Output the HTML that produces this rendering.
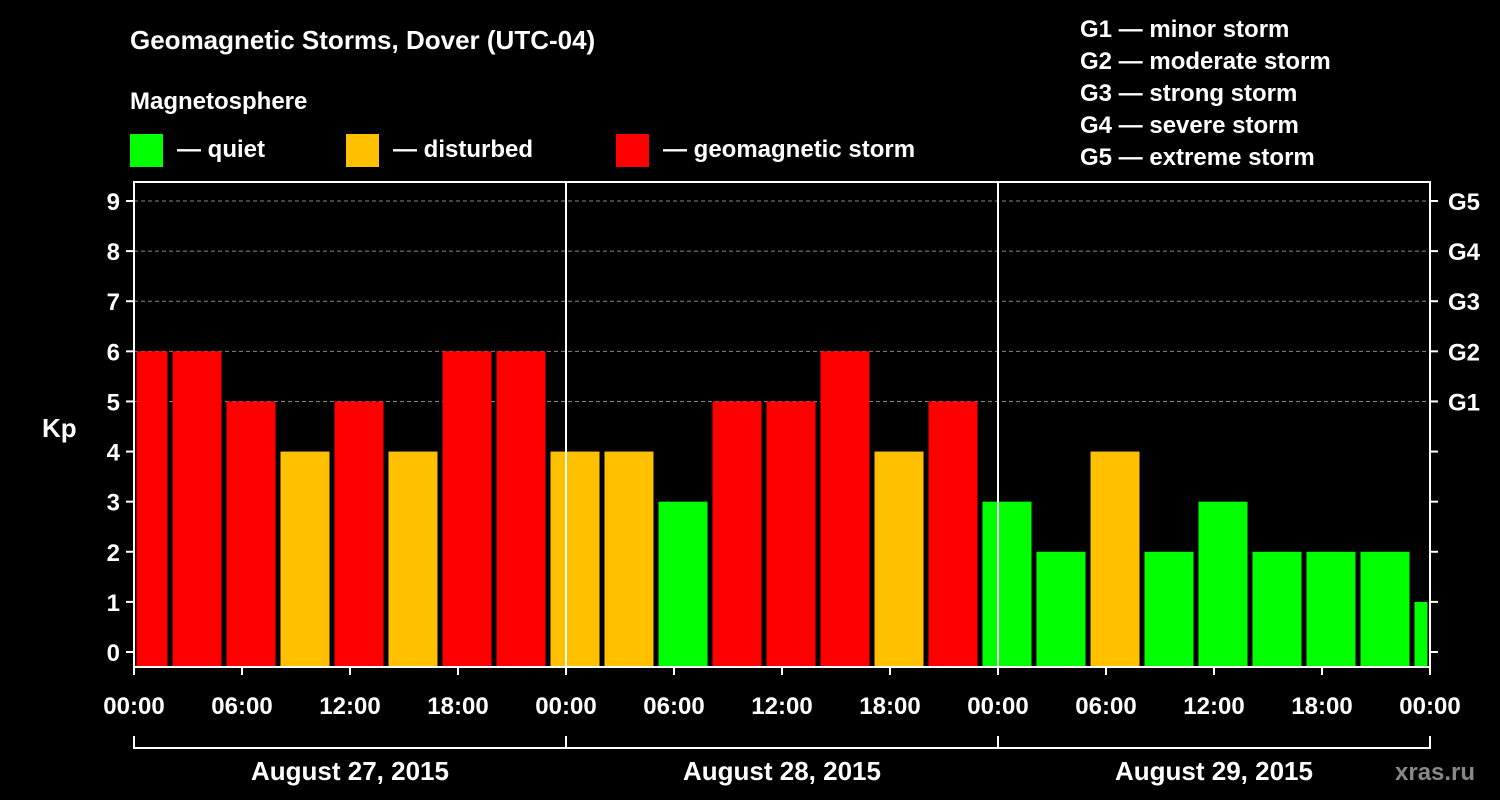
<!DOCTYPE html>
<html><head><meta charset="utf-8"><style>
body{margin:0;background:#000;width:1500px;height:800px;overflow:hidden}
svg{display:block}
text{font-family:"Liberation Sans",sans-serif;font-weight:bold;fill:#fff}
</style></head><body>
<svg id="chart" width="1500" height="800">
<text x="130" y="49" font-size="26">Geomagnetic Storms, Dover (UTC-04)</text>
<text x="130" y="109" font-size="24">Magnetosphere</text>
<g>
<rect x="130" y="134" width="33" height="33" fill="#00ff00"/>
<text x="177" y="157" font-size="24">— quiet</text>
<rect x="346" y="134" width="33" height="33" fill="#ffc000"/>
<text x="393" y="157" font-size="24">— disturbed</text>
<rect x="616" y="134" width="33" height="33" fill="#ff0000"/>
<text x="663" y="157" font-size="24">— geomagnetic storm</text>
</g>
<g font-size="24">
<text x="1080" y="37">G1 — minor storm</text>
<text x="1080" y="69">G2 — moderate storm</text>
<text x="1080" y="101">G3 — strong storm</text>
<text x="1080" y="133">G4 — severe storm</text>
<text x="1080" y="165">G5 — extreme storm</text>
</g>
<text x="42" y="437" font-size="26">Kp</text>
<text x="1395" y="780" font-size="24" fill="#888" style="fill:#888">xras.ru</text>
<g id="plot"></g>
</svg>
<script>
const kpValues=[6,6,5,4,5,4,6,6,4,4,3,5,5,6,4,5,3,2,4,2,3,2,2,2,1];
const yTicks=[0,1,2,3,4,5,6,7,8,9];
const gLabels=["","","","","","G1","G2","G3","G4","G5"];
const xTickLabels=["00:00","06:00","12:00","18:00","00:00","06:00","12:00","18:00","00:00","06:00","12:00","18:00","00:00"];
const dayLabels=["August 27, 2015","August 28, 2015","August 29, 2015"];
const binStartHour=-1, binHours=3, totalHours=72;
const X0=134,X1=1430,YT=182,YB=667;
const xs=h=>X0+(X1-X0)*h/totalHours;
const ys=v=>652-(652-201)*v/9;
const NS="http://www.w3.org/2000/svg";
const g=document.getElementById('plot');
function mk(t,a,p){const e=document.createElementNS(NS,t);for(const k in a)e.setAttribute(k,a[k]);(p||g).appendChild(e);return e;}
// grid
yTicks.forEach((v,i)=>{
 if(v>=5){const l=mk('line',{x1:X0,x2:X1,y1:ys(v),y2:ys(v),stroke:'#888','stroke-dasharray':'4,3','stroke-width':1});
 
 }
 const t=mk('line',{x1:X0-8,x2:X0,y1:ys(v),y2:ys(v),stroke:'#fff','stroke-width':2});
 
 
 const t2=mk('line',{x1:X1,x2:X1+8,y1:ys(v),y2:ys(v),stroke:'#fff','stroke-width':2});
 
 
 const tx=mk('text',{x:X0-14,y:ys(v)+9,'text-anchor':'end','font-size':24});tx.textContent=v;
 
 
 if(gLabels[i]){const gt=mk('text',{x:X1+18,y:ys(v)+9,'font-size':24});gt.textContent=gLabels[i];
 
 }
});
// bars
kpValues.forEach((v,i)=>{
 let h0=Math.max(0,binStartHour+i*binHours),h1=Math.min(totalHours,binStartHour+(i+1)*binHours);
 const x0=xs(h0)+2.5,x1=xs(h1)-2.5;
 const c=v<4?'#00ff00':(v<5?'#ffc000':'#ff0000');
 const r=mk('rect',{x:x0,y:ys(v),width:x1-x0,height:YB-ys(v),fill:c});
 
 
});
// day separators
[24,48].forEach(h=>{const l=mk('line',{x1:xs(h),x2:xs(h),y1:YT,y2:YB,stroke:'#fff','stroke-width':2});
 
 });
const fr=mk('rect',{x:X0,y:YT,width:X1-X0,height:YB-YT,fill:'none',stroke:'#fff','stroke-width':2});


xTickLabels.forEach((s,i)=>{
 const x=xs(i*6);
 const t=mk('line',{x1:x,x2:x,y1:YB,y2:YB+8,stroke:'#fff','stroke-width':2});
 
 
 const tx=mk('text',{x:x,y:714,'text-anchor':'middle','font-size':24});tx.textContent=s;
 
 
});
const br=mk('path',{d:`M${X0},736V748H${X1}V736M${xs(24)},736V748M${xs(48)},736V748`,stroke:'#fff','stroke-width':2,fill:'none'});


dayLabels.forEach((s,i)=>{
 const tx=mk('text',{x:xs(i*24+12),y:780,'text-anchor':'middle','font-size':26});tx.textContent=s;
 
 
});
</script>
</body></html>
